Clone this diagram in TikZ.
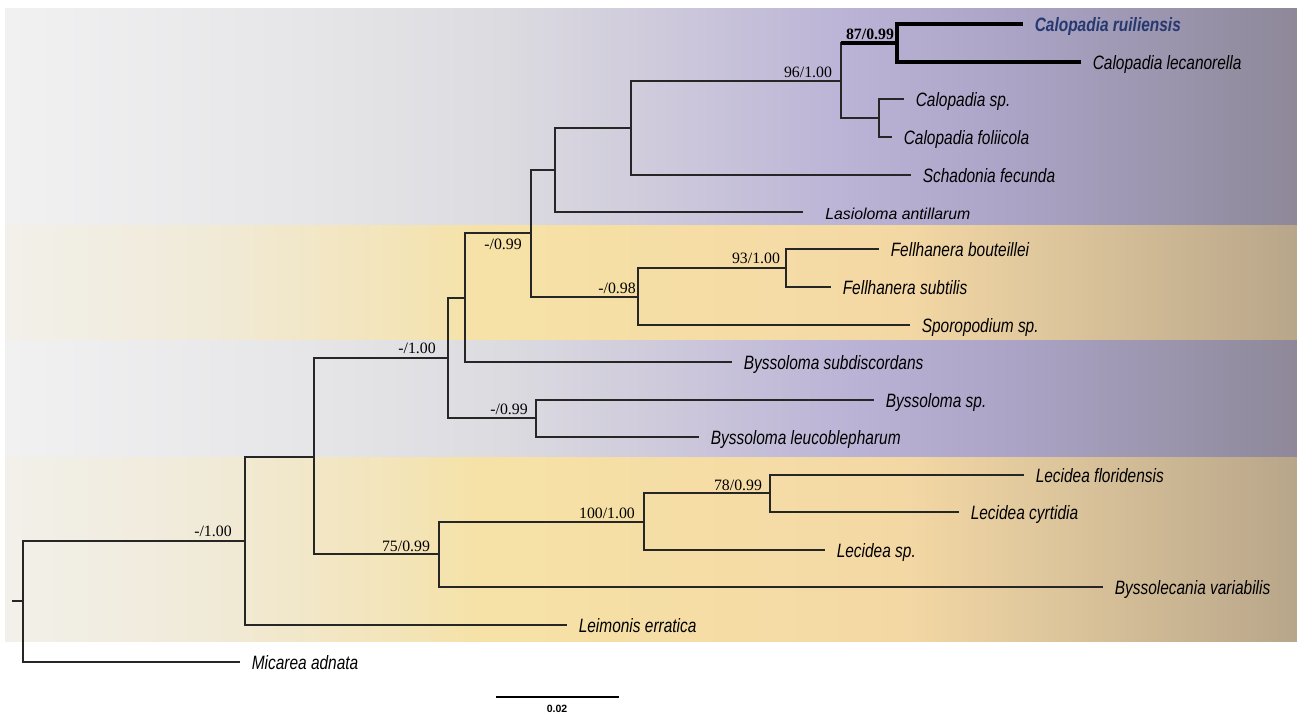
\documentclass[tikz,border=0pt]{standalone}
\usepackage{fontspec}
\usepackage{xcolor}
\setsansfont{Liberation Sans}
\newfontfamily\taxafont[FakeStretch=0.8]{Liberation Sans}
\newfontfamily\bootfont{Liberation Serif}

\definecolor{pgA}{RGB}{241,241,242}
\definecolor{pgB}{RGB}{230,230,232}
\definecolor{pgC}{RGB}{220,219,224}
\definecolor{pgD}{RGB}{207,203,220}
\definecolor{pgE}{RGB}{186,179,214}
\definecolor{pgF}{RGB}{172,165,200}
\definecolor{pgG}{RGB}{142,136,153}
\definecolor{ywA}{RGB}{242,240,234}
\definecolor{ywB}{RGB}{240,234,216}
\definecolor{ywC}{RGB}{243,228,184}
\definecolor{ywD}{RGB}{246,226,166}
\definecolor{ywE}{RGB}{244,216,164}
\definecolor{ywF}{RGB}{222,198,156}
\definecolor{ywG}{RGB}{184,166,138}
\definecolor{newsp}{RGB}{38,56,112}

\pgfdeclarehorizontalshading{purpleband}{100bp}{color(0bp)=(pgA); color(25bp)=(pgA); color(36.6bp)=(pgB); color(44.3bp)=(pgC); color(50bp)=(pgD); color(57.8bp)=(pgE); color(63.5bp)=(pgF); color(75bp)=(pgG); color(100bp)=(pgG)}
\pgfdeclarehorizontalshading{yellowband}{100bp}{color(0bp)=(ywA); color(25bp)=(ywA); color(32.7bp)=(ywB); color(40.4bp)=(ywC); color(43.5bp)=(ywD); color(59.7bp)=(ywE); color(65.5bp)=(ywF); color(75bp)=(ywG); color(100bp)=(ywG)}

\begin{document}
\begin{tikzpicture}[x=0.02cm, y=-0.02cm,
    branch/.style={line width=0.7pt, black!85},
    cladeline/.style={line width=2pt, black},
    taxon/.style={anchor=west, inner xsep=6.5pt, inner ysep=0pt, text height=8pt, text depth=0pt,
        font=\taxafont\itshape\fontsize{11}{11}\selectfont},
    support/.style={inner sep=0pt, text height=6.2pt, text depth=0pt,
        font=\bootfont\fontsize{9}{9}\selectfont}]
        \useasboundingbox (0,0) rectangle (1297,714);

        % coloured bands
        \shade[shading=purpleband] (5,8) rectangle (1297,225);
        \shade[shading=yellowband] (5,225) rectangle (1297,340);
        \shade[shading=purpleband] (5,340) rectangle (1297,457);
        \shade[shading=yellowband] (5,457) rectangle (1297,641);

        % internal nodes
        \coordinate (stub) at (12,601);
        \coordinate (root) at (23,601);
        \coordinate (nA) at (245,541);
        \coordinate (nB) at (314,457);
        \coordinate (nC) at (448,358);
        \coordinate (nD) at (536,418);
        \coordinate (nE) at (465,298);
        \coordinate (nF) at (531,233);
        \coordinate (nG) at (638,297);
        \coordinate (nH) at (786,268);
        \coordinate (nI) at (555,170);
        \coordinate (nJ) at (631,128);
        \coordinate (nK) at (841,81);
        \coordinate (nL) at (897,43);
        \coordinate (nM) at (879,118);
        \coordinate (nN) at (439,554);
        \coordinate (nO) at (644,522);
        \coordinate (nP) at (770,493);

        % taxa
        \node[taxon, text=newsp, font=\taxafont\itshape\bfseries\fontsize{11}{11}\selectfont] (rui) at (1023,24) {Calopadia ruiliensis};
        \node[taxon] (lecan) at (1081,62) {Calopadia lecanorella};
        \node[taxon] (calsp) at (904,99) {Calopadia sp.};
        \node[taxon] (calfol) at (892,137) {Calopadia foliicola};
        \node[taxon] (schad) at (911,175) {Schadonia fecunda};
        \node[taxon, inner xsep=12.5pt, font=\sffamily\itshape\fontsize{9}{9}\selectfont] (lasio) at (803,212) {Lasioloma antillarum};
        \node[taxon] (fbou) at (879,249) {Fellhanera bouteillei};
        \node[taxon] (fsub) at (831,287) {Fellhanera subtilis};
        \node[taxon] (sporo) at (910,325) {Sporopodium sp.};
        \node[taxon] (bsub) at (732,362) {Byssoloma subdiscordans};
        \node[taxon] (bsp) at (874,400) {Byssoloma sp.};
        \node[taxon] (bleu) at (699,437) {Byssoloma leucoblepharum};
        \node[taxon] (lflo) at (1024,475) {Lecidea floridensis};
        \node[taxon] (lcyr) at (959,512) {Lecidea cyrtidia};
        \node[taxon] (lsp) at (825,550) {Lecidea sp.};
        \node[taxon] (bvar) at (1103,587) {Byssolecania variabilis};
        \node[taxon] (leim) at (567,625) {Leimonis erratica};
        \node[taxon] (mic) at (240,662) {Micarea adnata};

        % branches
        \draw[branch] (stub) -- (root);
        \draw[branch] (root) |- (nA);
        \draw[branch] (root) |- (mic.west);
        \draw[branch] (nA) |- (nB);
        \draw[branch] (nA) |- (leim.west);
        \draw[branch] (nB) |- (nC);
        \draw[branch] (nB) |- (nN);
        \draw[branch] (nC) |- (nE);
        \draw[branch] (nC) |- (nD);
        \draw[branch] (nD) |- (bsp.west);
        \draw[branch] (nD) |- (bleu.west);
        \draw[branch] (nE) |- (nF);
        \draw[branch] (nE) |- (bsub.west);
        \draw[branch] (nF) |- (nI);
        \draw[branch] (nF) |- (nG);
        \draw[branch] (nG) |- (nH);
        \draw[branch] (nG) |- (sporo.west);
        \draw[branch] (nH) |- (fbou.west);
        \draw[branch] (nH) |- (fsub.west);
        \draw[branch] (nI) |- (nJ);
        \draw[branch] (nI) |- (lasio.west);
        \draw[branch] (nJ) |- (nK);
        \draw[branch] (nJ) |- (schad.west);
        \draw[branch] (nK) |- (nL);
        \draw[branch] (nK) |- (nM);
        \draw[cladeline] (nK |- nL) -- (nL);
        \draw[cladeline] (nL) |- (rui.west);
        \draw[cladeline] (nL) |- (lecan.west);
        \draw[branch] (nM) |- (calsp.west);
        \draw[branch] (nM) |- (calfol.west);
        \draw[branch] (nN) |- (nO);
        \draw[branch] (nN) |- (bvar.west);
        \draw[branch] (nO) |- (nP);
        \draw[branch] (nO) |- (lsp.west);
        \draw[branch] (nP) |- (lflo.west);
        \draw[branch] (nP) |- (lcyr.west);

        % support values
        \node[support] (sA) at (213,531) {-/1.00};
        \node[support] (sC) at (417,348) {-/1.00};
        \node[support] (sD) at (509,409) {-/0.99};
        \node[support] (sF) at (503,244) {-/0.99};
        \node[support] (sG) at (617,288) {-/0.98};
        \node[support] (sH) at (756,258) {93/1.00};
        \node[support] (sK) at (808,72) {96/1.00};
        \node[support, font=\bootfont\bfseries\fontsize{9}{9}\selectfont] (sL) at (870,34) {87/0.99};
        \node[support] (sN) at (406,546) {75/0.99};
        \node[support] (sO) at (607,513) {100/1.00};
        \node[support] (sP) at (738,485) {78/0.99};

        % scale bar
        \coordinate (barL) at (496,697);
        \coordinate (barR) at (619,697);
        \draw[line width=0.6pt] (barL) -- (barR);
        \node[inner sep=0pt, font=\sffamily\bfseries\fontsize{6}{6}\selectfont] (barlab) at (557,709) {0.02};
    \end{tikzpicture}
\end{document}
